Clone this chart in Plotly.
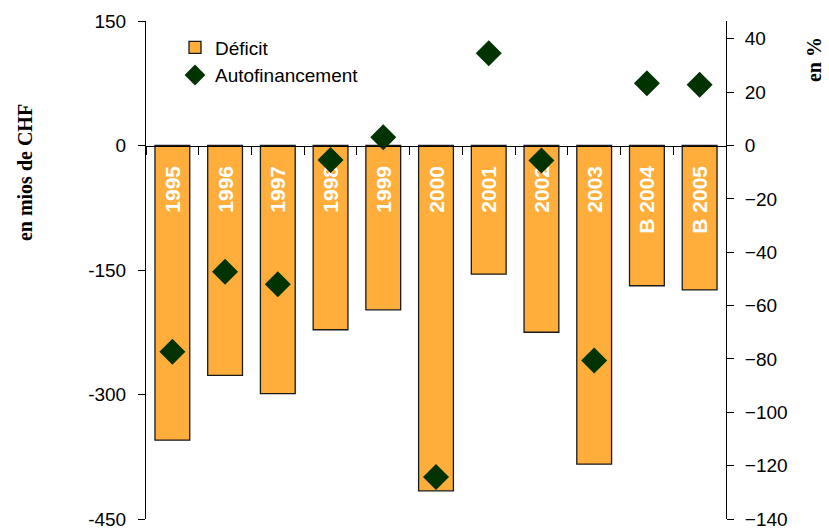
import plotly.graph_objects as go

# ---- data ----
years = ["1995", "1996", "1997", "1998", "1999", "2000", "2001", "2002", "2003", "B 2004", "B 2005"]
deficit = [-355, -277, -299, -222, -198, -416, -155, -225, -384, -169, -174]          # en mios de CHF
autofinancement = [-77.3, -47.3, -52.0, -5.4, 3.1, -124.3, 34.6, -5.6, -80.6, 23.3, 22.8]  # en %
left_ticks = [150, 0, -150, -300, -450]
right_ticks = [40, 20, 0, -20, -40, -60, -80, -100, -120, -140]

left_range = [-450, 150]
right_range = [-140, 140 / 3]

FONT = "Liberation Sans, Arial, sans-serif"
SERIF = "Liberation Serif, Times New Roman, serif"

n = len(years)
boundaries = [i - 0.5 for i in range(n + 1)]
zero_pos = (0 - left_range[0]) / (left_range[1] - left_range[0])

fig = go.Figure()
fig.add_trace(go.Bar(
    x=years, y=deficit, name="Déficit",
    marker=dict(color="#FFAE3C", line=dict(color="#1a1a1a", width=1.3)),
    text=years, texttemplate="%{text}\u00a0\u00a0\u00a0",
    textposition="inside", insidetextanchor="start", textangle=-90,
    textfont=dict(family=FONT, size=21, color="white", weight="bold"),
    constraintext="none", cliponaxis=False,
    xaxis="x", yaxis="y", hoverinfo="skip",
))
fig.add_trace(go.Scatter(
    x=years, y=autofinancement, name="Autofinancement", mode="markers",
    marker=dict(symbol="diamond", size=20, color="#003300"),
    xaxis="x", yaxis="y2", hoverinfo="skip", cliponaxis=False,
))

common_tick = dict(ticklen=7, tickwidth=1, tickcolor="black", showgrid=False,
                   zeroline=False, automargin=False)

fig.update_layout(
    width=829, height=530,
    margin=dict(l=146, r=103, t=21, b=11, autoexpand=False),
    paper_bgcolor="white", plot_bgcolor="white",
    bargap=0.34,
    font=dict(family=FONT, size=19, color="black"),
    showlegend=True,
    legend=dict(x=0.05, y=0.985, xanchor="left", yanchor="top",
                bgcolor="rgba(0,0,0,0)", font=dict(family=FONT, size=19),
                tracegroupgap=0, itemsizing="trace", itemwidth=30),
    xaxis=dict(type="category", range=[-0.5, n - 0.5], anchor="free", position=zero_pos,
               tickson="boundaries", ticks="outside", ticklen=8, tickcolor="black",
               showticklabels=False, showline=True, linecolor="black", linewidth=1,
               showgrid=False, zeroline=False, automargin=False, fixedrange=True),
    xaxis2=dict(overlaying="x", range=[-0.5, n - 0.5], anchor="free", position=zero_pos,
                tickvals=boundaries, ticks="inside", ticklen=8, tickcolor="black",
                showticklabels=False, showline=False, showgrid=False, zeroline=False,
                automargin=False),
    yaxis=dict(range=left_range, tickvals=left_ticks, ticktext=[str(v) for v in left_ticks],
               ticks="outside", showline=True, linecolor="black", linewidth=1,
               ticklabelstandoff=8, anchor="x", **common_tick),
    yaxis3=dict(overlaying="y", side="left", range=left_range, tickvals=left_ticks,
                ticks="inside", showticklabels=False, showline=False, anchor="x", **common_tick),
    yaxis2=dict(overlaying="y", side="right", range=right_range, tickvals=right_ticks,
                ticks="outside", showline=True, linecolor="black", linewidth=1,
                ticklabelstandoff=7, anchor="x", **common_tick),
    yaxis4=dict(overlaying="y", side="right", range=right_range, tickvals=right_ticks,
                ticks="inside", showticklabels=False, showline=False, anchor="x", **common_tick),
    annotations=[
        dict(text="<b>en mios de CHF</b>", textangle=-90, xref="paper", yref="paper",
             x=-0.2086, y=0.6946, xanchor="center", yanchor="middle", showarrow=False,
             font=dict(family=SERIF, size=20, color="black")),
        dict(text="<b>en %</b>", textangle=-90, xref="paper", yref="paper",
             x=1.153, y=0.923, xanchor="center", yanchor="middle", showarrow=False,
             font=dict(family=SERIF, size=20, color="black")),
    ],
)

fig.write_html("out.html",
               config={"displayModeBar": False},
               post_script="document.body.style.margin='0';document.body.style.overflow='hidden';")
